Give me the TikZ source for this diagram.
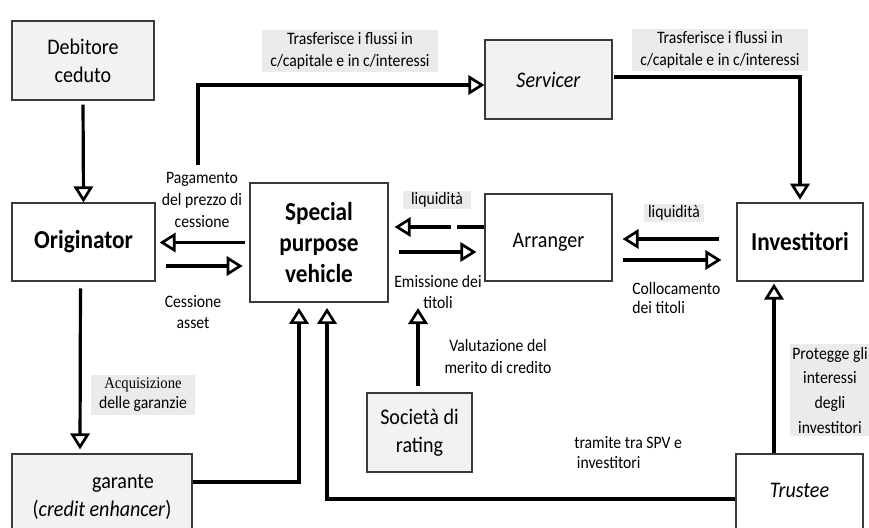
\documentclass[tikz,border=0pt]{standalone}
\usepackage{fontspec}
\setmainfont{Carlito}[FakeStretch=0.9]
\newfontfamily\serifword{Liberation Serif}[FakeStretch=0.9]
\usetikzlibrary{arrows.meta,calc}
\definecolor{boxgray}{HTML}{F2F2F2}
\definecolor{labgray}{HTML}{EBEBEB}
\definecolor{edgecol}{HTML}{3A3A3A}
\begin{document}
\begin{tikzpicture}[x=0.75pt,y=-0.75pt,
  box/.style={draw=edgecol,line width=0.9pt,align=center,inner sep=0pt,
    font=\fontsize{16.7pt}{21pt}\selectfont},
  gbox/.style={box,fill=boxgray},
  bbox/.style={box,font=\fontsize{19.4pt}{23.6pt}\selectfont\bfseries},
  arr/.style={line width=2.4pt,-{Triangle[length=12pt,width=14.5pt,line width=2pt,fill=white]}},
  lab/.style={align=center,inner sep=1pt,font=\fontsize{13.1pt}{16.5pt}\selectfont},
  glab/.style={lab,fill=labgray,inner xsep=6pt,inner ysep=2pt}]
\useasboundingbox (0,0) rectangle (869,528);

% boxes
\node[gbox,minimum width=106.5pt,minimum height=59.25pt] (deb) at (83,60.5) {Debitore\\ceduto};
\node[bbox,minimum width=107.25pt,minimum height=58.5pt] (orig) at (83.5,242) {Originator};
\node[bbox,minimum width=103.5pt,minimum height=89.25pt] (spv) at (319,242.5) {Special\\purpose\\vehicle};
\node[gbox,minimum width=95.25pt,minimum height=59.25pt] (serv) at (548.5,79.5) {\textit{Servicer}};
\node[box,minimum width=95.25pt,minimum height=65.25pt] (arr) at (548.5,237.5) {\rule{0pt}{18pt}Arranger};
\node[bbox,minimum width=94.5pt,minimum height=58.5pt] (inv) at (800,242) {Investitori};
\node[gbox,minimum width=78.75pt,minimum height=59.25pt] (rat) at (419.5,432.5) {Società di\\rating};
\node[gbox,minimum width=135pt,minimum height=64.5pt] (gar) at (102,497) {\hspace*{31.5pt}garante\\(\textit{credit enhancer})};
\node[box,minimum width=95.25pt,minimum height=64.5pt] (tru) at (799.5,497) {\textit{Trustee}\rule[-10.5pt]{0pt}{10.5pt}};

% free ends
\coordinate (ps) at (198,165);
\coordinate (rt) at (418,308);

% connectors
\draw[arr,shorten <=3pt] (deb.south) -- (orig.north);
\draw[arr,shorten <=5pt,shorten >=3pt] ($(orig.south)+(-3,0)$) -- ($(gar.north)+(-22,0)$);
\draw[arr,shorten <=3.5pt,shorten >=3pt] (spv.west) -- (orig.east |- spv.west);
\draw[arr,shorten <=7.5pt,shorten >=5pt] ($(orig.east)+(0,24)$) -- ($(spv.west)+(0,23.5)$);
\draw[arr] (ps) |- ($(serv.west)+(0,5.5)$);
\draw[arr,shorten <=1pt,shorten >=2pt] ($(serv.east)+(0,-2.5)$) -| (inv.north);
\draw[arr,shorten >=4.5pt,dash pattern=on 20.25pt off 4.5pt on 200pt off 0pt]
  ($(arr.west)+(0,-10.5)$) -- ($(spv.east)+(0,-15.5)$);
\draw[arr,shorten <=8pt,shorten >=6pt] ($(spv.east)+(0,9.5)$) -- ($(arr.west)+(0,14.5)$);
\draw[arr,shorten <=12.75pt,shorten >=7.5pt] ($(inv.west)+(0,-3)$) -- ($(arr.east)+(0,1.5)$);
\draw[arr,shorten <=7.5pt,shorten >=11.25pt] ($(arr.east)+(0,22.5)$) -- ($(inv.west)+(0,18)$);
\draw[arr,shorten <=4.5pt] (rat.north -| rt) -- (rt);
\draw[arr,shorten >=4pt] ($(gar.east)+(0,-15)$) -| ($(spv.south)+(-20,0)$);
\draw[arr,shorten >=4pt] ($(tru.west)+(0,2)$) -| ($(spv.south)+(8,0)$);
\draw[arr,shorten >=1.5pt] ($(tru.north)+(-25.5,0)$) -- ($(inv.south)+(-26,0)$);

% labels
\node[glab] (l1) at (350,51) {Trasferisce i flussi in\\c/capitale e in c/interessi};
\node[glab] (l2) at (720,50) {Trasferisce i flussi in\\c/capitale e in c/interessi};
\node[lab] (l3) at (202,200) {Pagamento\\del prezzo di\\cessione};
\node[lab,font=\fontsize{13.1pt}{15.75pt}\selectfont] (l4) at (193,312.5) {Cessione\\asset};
\node[glab,inner ysep=1pt] (l5) at (437,200) {liquidità};
\node[lab,font=\fontsize{13.1pt}{15.75pt}\selectfont] (l6) at (438,291.5) {Emissione dei\\titoli};
\node[glab,inner ysep=1pt,inner xsep=3pt] (l7) at (674,213) {liquidità};
\node[lab,anchor=west,align=left,inner xsep=0pt,font=\fontsize{13.1pt}{14.5pt}\selectfont] (l8) at (632,298) {Collocamento\\dei titoli};
\node[lab,font=\fontsize{13.1pt}{17pt}\selectfont] (l9) at (498,356.5) {Valutazione del\\merito di credito};
\node[glab,font=\fontsize{13.1pt}{15pt}\selectfont] (l10) at (143,395) {{\serifword\fontsize{12.2pt}{15pt}\selectfont Acquisizione}\\delle garanzie};
\node[lab,anchor=west,align=left,inner xsep=0pt,font=\fontsize{13.1pt}{15pt}\selectfont] (l11) at (574,453) {tramite tra SPV e\\\hspace*{2pt}investitori};
\node[glab,inner xsep=2pt,font=\fontsize{13.1pt}{18.5pt}\selectfont] (l12) at (830,390) {Protegge gli\\interessi\\degli\\investitori};
\end{tikzpicture}
\end{document}
